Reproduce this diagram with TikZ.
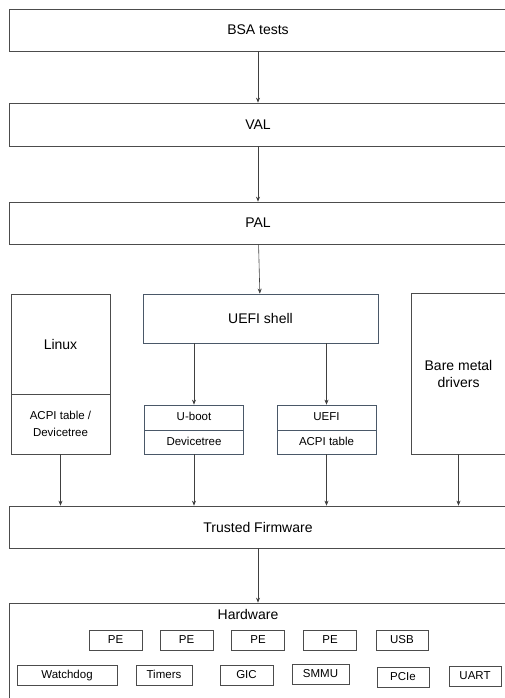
\documentclass[tikz,border=0pt]{standalone}
\usepackage{fontspec}
\setmainfont{Liberation Sans}
\usetikzlibrary{arrows.meta}
\definecolor{slate}{HTML}{4A5868}
\tikzset {>={Stealth[length=5pt,width=4pt]}}
\tikzset{
  box/.style={draw=black!70,line width=.7pt,inner sep=0pt,
    font=\fontsize{14}{17}\selectfont,align=center},
  hwbox/.style={draw=black!70,line width=.6pt,inner sep=0pt,
    minimum height=20pt,text height=8.5pt,text depth=2pt,
    font=\fontsize{11.5}{14}\selectfont},
  link/.style={->,draw=black!75,line width=.6pt}}

\begin{document}
\begin{tikzpicture}[x=1pt,y=-1pt]
\useasboundingbox (0,0) rectangle (505,698);
\node[box,minimum width=498pt,minimum height=42pt] (bsa) at (258,30) {BSA tests};
\node[box,minimum width=498pt,minimum height=43pt] (val) at (258,124.5) {VAL};
\node[box,minimum width=498pt,minimum height=42pt] (pal) at (258,223) {PAL};
\node[box,minimum width=99pt,minimum height=100pt] (linux) at (60.5,344) {Linux};
\node[box,minimum width=99pt,minimum height=60pt,
  font=\fontsize{11.5}{17}\selectfont] (linuxdt) at (60.5,424) {ACPI table /\\Devicetree};
\node[box,draw=slate,minimum width=235pt,minimum height=49pt] (shell)
  at (260.5,318.5) {UEFI shell};
\node[box,minimum width=95pt,minimum height=161pt] (bare) at (458.5,373.5) {Bare metal\\drivers};
\foreach \n/\x/\top/\bot in {uboot/194/U-boot/Devicetree,uefi/326.5/UEFI/ACPI table}{
  \node[box,draw=slate,minimum width=99pt,minimum height=25pt,text height=8.5pt,
    text depth=2pt,font=\fontsize{11.5}{14}\selectfont] (\n) at (\x,417.5) {\top};
  \node[box,draw=slate,minimum width=99pt,minimum height=24pt,text height=8.5pt,
    text depth=2pt,font=\fontsize{11.5}{14}\selectfont] (\n dt) at (\x,442) {\bot};
}
\node[box,minimum width=498pt,minimum height=42pt] (tf) at (258,527) {Trusted Firmware};
\node[box,minimum width=498pt,minimum height=100pt] (hw) at (258,653) {};
\node[font=\fontsize{14}{17}\selectfont] (hwname) at (248,614) {Hardware};
\foreach \n/\x in {1/115.5,2/186.5,3/258,4/330}
  \node[hwbox,minimum width=53pt] (pe\n) at (\x,640) {PE};
\node[hwbox,minimum width=52pt] (usb) at (402,640) {USB};
\foreach \n/\x/\y/\w/\t in {wdog/67/675/100/Watchdog,timers/164/675/56/Timers,
    gic/246.5/675/53/GIC,smmu/320.5/674.5/57/SMMU,pcie/403/677/52/PCIe,
    uart/475/676.5/52/UART}
  \node[hwbox,minimum width=\w pt] (\n) at (\x,\y) {\t};
\draw[link] (bsa) -- (val);
\draw[link] (val) -- (pal);
\draw[link] (pal) -- (shell);
\foreach \n in {uboot,uefi}
  \draw[link] (shell.south -| \n) -- (\n);
\foreach \n in {linuxdt,ubootdt,uefidt,bare}
  \draw[link] (\n) -- (\n |- tf.north);
\draw[link] (tf) -- (hw);
\end{tikzpicture}
\end{document}
